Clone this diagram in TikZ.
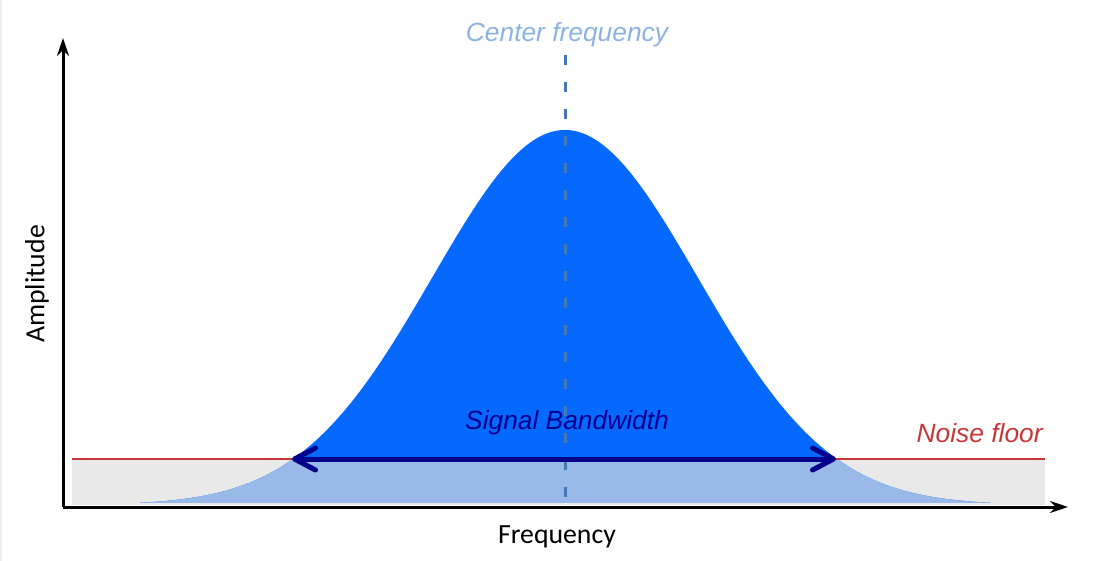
\documentclass[tikz,border=0pt]{standalone}
\usepackage{fontspec}
\setmainfont{Liberation Sans}
\newfontfamily\calfont{Carlito}
\usetikzlibrary{arrows.meta,positioning}
\definecolor{sigblue}{RGB}{5,105,255}
\definecolor{floorblue}{RGB}{153,186,232}
\definecolor{floorgray}{RGB}{233,233,233}
\definecolor{noisered}{RGB}{200,55,55}
\definecolor{bwnavy}{RGB}{0,0,140}
\definecolor{cflight}{RGB}{140,178,225}
\definecolor{cfdash}{RGB}{70,120,180}
\tikzset{axis/.style={draw,line width=0.06cm,-{Stealth[length=0.36cm,width=0.24cm]}}}
\tikzset{floor/.style={draw=noisered,line width=0.035cm}}
\tikzset{cfline/.style={draw=cfdash,line width=0.06cm,dash pattern=on 0.2cm off 0.34cm}}
\tikzset{bwarrow/.style={draw=bwnavy,line width=0.1cm,line cap=round,{Straight Barb[length=0.42cm,width=0.44cm,round]}-{Straight Barb[length=0.42cm,width=0.44cm,round]}}}
\tikzset{label/.style={font=\itshape\fontsize{15}{18}\selectfont,inner sep=0pt}}
\tikzset{axlabel/.style={font=\calfont\fontsize{15.8}{18}\selectfont,inner sep=0pt}}

\begin{document}
\begin{tikzpicture}[x=0.02cm,y=-0.02cm]
    \useasboundingbox (0,0) rectangle (1100,561);
    \fill[gray!15] (0,0) rectangle (2,561);

    % noise floor band
    \fill[floorgray] (72,459) rectangle (1045,505);
    % signal
    \fill[sigblue] plot[domain=140:990,samples=200,smooth] (\x,{505-375*exp(-((\x-565)/100)^2/3.5264)}) -- cycle;
    \begin{scope}
        \clip (0,459) rectangle (1100,506);
        \fill[floorblue] plot[domain=140:990,samples=200,smooth] (\x,{505-375*exp(-((\x-565)/100)^2/3.5264)}) -- cycle;
    \end{scope}

    \coordinate (origin) at (63,507);
    \coordinate (ytop) at (63,38);
    \coordinate (xend) at (1068,507);
    \coordinate (nfl) at (72,459);
    \coordinate (nfr) at (1045,459);
    \coordinate (ctop) at (565,55);
    \coordinate (cbot) at (565,497);
    \coordinate (bwl) at (292,459);
    \coordinate (bwr) at (836,459);

    \path[floor] (nfl) -- (nfr);
    \path[cfline] (ctop) -- (cbot);
    \path[axis] (origin) -- (ytop);
    \path[axis] (origin) -- (xend);
    \path[bwarrow] (bwl) -- (bwr);

    \node[label,text=cflight] (cf) at (567,35) {Center frequency};
    \node[label,text=bwnavy] (bw) at (567,423) {Signal Bandwidth};
    \node[label,text=noisered,anchor=east] (nf) at (1043,433) {Noise floor};
    \node[axlabel] (freq) at (557,537) {Frequency};
    \node[axlabel,rotate=90] (amp) at (37,284) {Amplitude};
\end{tikzpicture}
\end{document}
